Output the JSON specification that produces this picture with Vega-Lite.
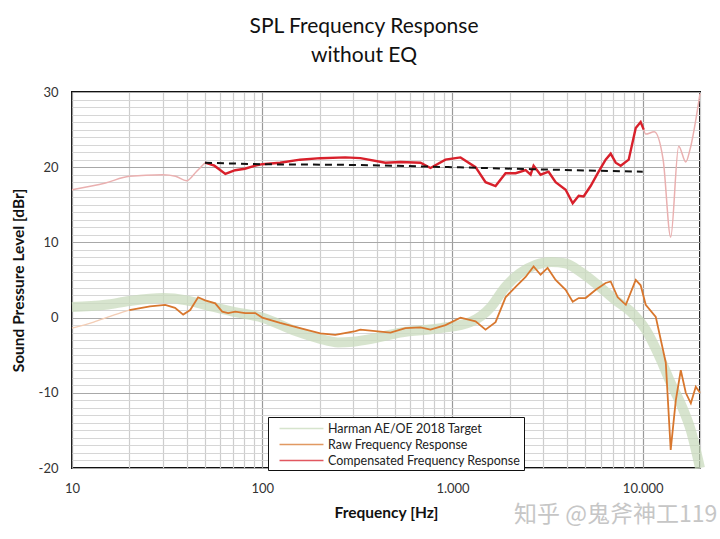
{
  "$schema": "https://vega.github.io/schema/vega-lite/v6.json",
  "width": 628,
  "height": 376,
  "autosize": {"type": "none"},
  "padding": {"left": 72, "top": 92, "right": 20, "bottom": 71},
  "background": "white",
  "title": {
    "text": ["SPL Frequency Response", "without EQ"],
    "font": "Lato",
    "fontSize": 21,
    "fontWeight": "normal",
    "color": "#111",
    "anchor": "middle",
    "dx": -22,
    "offset": 20,
    "lineHeight": 29
  },
  "config": {
    "view": {"stroke": "#111", "strokeWidth": 2},
    "axis": {"domain": false, "ticks": false, "labelFont": "Lato", "titleFont": "Lato", "labelColor": "#333", "titleColor": "#111", "labelFontSize": 13, "titleFontSize": 15.5, "titleFontWeight": "bold"},
    "legend": {"labelFont": "Lato"}
  },
  "datasets": {
    "pts": [
      {"s": "Harman AE/OE 2018 Target", "f": 10, "v": 1.4},
      {"s": "Harman AE/OE 2018 Target", "f": 15, "v": 1.7},
      {"s": "Harman AE/OE 2018 Target", "f": 20, "v": 2.2},
      {"s": "Harman AE/OE 2018 Target", "f": 30, "v": 2.6},
      {"s": "Harman AE/OE 2018 Target", "f": 40, "v": 2.3},
      {"s": "Harman AE/OE 2018 Target", "f": 50, "v": 1.7},
      {"s": "Harman AE/OE 2018 Target", "f": 70, "v": 0.8},
      {"s": "Harman AE/OE 2018 Target", "f": 100, "v": 0.0},
      {"s": "Harman AE/OE 2018 Target", "f": 150, "v": -1.8},
      {"s": "Harman AE/OE 2018 Target", "f": 200, "v": -2.8},
      {"s": "Harman AE/OE 2018 Target", "f": 250, "v": -3.3},
      {"s": "Harman AE/OE 2018 Target", "f": 300, "v": -3.2},
      {"s": "Harman AE/OE 2018 Target", "f": 380, "v": -2.8},
      {"s": "Harman AE/OE 2018 Target", "f": 530, "v": -2.0},
      {"s": "Harman AE/OE 2018 Target", "f": 870, "v": -1.4},
      {"s": "Harman AE/OE 2018 Target", "f": 1240, "v": -0.6},
      {"s": "Harman AE/OE 2018 Target", "f": 1590, "v": 1.4},
      {"s": "Harman AE/OE 2018 Target", "f": 1900, "v": 4.1},
      {"s": "Harman AE/OE 2018 Target", "f": 2260, "v": 5.9},
      {"s": "Harman AE/OE 2018 Target", "f": 2730, "v": 7.0},
      {"s": "Harman AE/OE 2018 Target", "f": 3300, "v": 7.4},
      {"s": "Harman AE/OE 2018 Target", "f": 3930, "v": 7.2},
      {"s": "Harman AE/OE 2018 Target", "f": 4700, "v": 6.1},
      {"s": "Harman AE/OE 2018 Target", "f": 5950, "v": 4.1},
      {"s": "Harman AE/OE 2018 Target", "f": 7210, "v": 2.3},
      {"s": "Harman AE/OE 2018 Target", "f": 8650, "v": 0.8},
      {"s": "Harman AE/OE 2018 Target", "f": 10370, "v": -1.6},
      {"s": "Harman AE/OE 2018 Target", "f": 12450, "v": -5.6},
      {"s": "Harman AE/OE 2018 Target", "f": 14030, "v": -8.7},
      {"s": "Harman AE/OE 2018 Target", "f": 15800, "v": -11.4},
      {"s": "Harman AE/OE 2018 Target", "f": 17900, "v": -15.0},
      {"s": "Harman AE/OE 2018 Target", "f": 20000, "v": -20.0},

      {"s": "RawLow", "f": 10, "v": -1.4},
      {"s": "RawLow", "f": 13, "v": -0.6},
      {"s": "RawLow", "f": 16, "v": 0.2},
      {"s": "RawLow", "f": 20, "v": 1.0},

      {"s": "Raw Frequency Response", "f": 20, "v": 1.0},
      {"s": "Raw Frequency Response", "f": 25.7, "v": 1.5},
      {"s": "Raw Frequency Response", "f": 30.9, "v": 1.7},
      {"s": "Raw Frequency Response", "f": 34.8, "v": 1.3},
      {"s": "Raw Frequency Response", "f": 38.4, "v": 0.4},
      {"s": "Raw Frequency Response", "f": 41.8, "v": 1.0},
      {"s": "Raw Frequency Response", "f": 46.0, "v": 2.7},
      {"s": "Raw Frequency Response", "f": 50.1, "v": 2.3},
      {"s": "Raw Frequency Response", "f": 56.6, "v": 1.9},
      {"s": "Raw Frequency Response", "f": 61.6, "v": 0.8},
      {"s": "Raw Frequency Response", "f": 66.2, "v": 0.6},
      {"s": "Raw Frequency Response", "f": 72.1, "v": 0.8},
      {"s": "Raw Frequency Response", "f": 81.4, "v": 0.6},
      {"s": "Raw Frequency Response", "f": 91.9, "v": 0.6},
      {"s": "Raw Frequency Response", "f": 100, "v": 0.0},
      {"s": "Raw Frequency Response", "f": 124, "v": -0.7},
      {"s": "Raw Frequency Response", "f": 158, "v": -1.4},
      {"s": "Raw Frequency Response", "f": 202, "v": -2.1},
      {"s": "Raw Frequency Response", "f": 242, "v": -2.3},
      {"s": "Raw Frequency Response", "f": 309, "v": -1.8},
      {"s": "Raw Frequency Response", "f": 328, "v": -1.6},
      {"s": "Raw Frequency Response", "f": 472, "v": -2.0},
      {"s": "Raw Frequency Response", "f": 566, "v": -1.4},
      {"s": "Raw Frequency Response", "f": 679, "v": -1.3},
      {"s": "Raw Frequency Response", "f": 766, "v": -1.6},
      {"s": "Raw Frequency Response", "f": 919, "v": -1.0},
      {"s": "Raw Frequency Response", "f": 1102, "v": 0.0},
      {"s": "Raw Frequency Response", "f": 1322, "v": -0.5},
      {"s": "Raw Frequency Response", "f": 1492, "v": -1.6},
      {"s": "Raw Frequency Response", "f": 1684, "v": -0.6},
      {"s": "Raw Frequency Response", "f": 1901, "v": 2.7},
      {"s": "Raw Frequency Response", "f": 2147, "v": 4.1},
      {"s": "Raw Frequency Response", "f": 2423, "v": 5.4},
      {"s": "Raw Frequency Response", "f": 2669, "v": 6.8},
      {"s": "Raw Frequency Response", "f": 2904, "v": 5.7},
      {"s": "Raw Frequency Response", "f": 3162, "v": 6.6},
      {"s": "Raw Frequency Response", "f": 3484, "v": 5.0},
      {"s": "Raw Frequency Response", "f": 3934, "v": 3.7},
      {"s": "Raw Frequency Response", "f": 4285, "v": 2.1},
      {"s": "Raw Frequency Response", "f": 4607, "v": 2.6},
      {"s": "Raw Frequency Response", "f": 5012, "v": 2.6},
      {"s": "Raw Frequency Response", "f": 5663, "v": 3.7},
      {"s": "Raw Frequency Response", "f": 6383, "v": 4.6},
      {"s": "Raw Frequency Response", "f": 6786, "v": 4.8},
      {"s": "Raw Frequency Response", "f": 7387, "v": 2.7},
      {"s": "Raw Frequency Response", "f": 8150, "v": 1.7},
      {"s": "Raw Frequency Response", "f": 9188, "v": 5.0},
      {"s": "Raw Frequency Response", "f": 9752, "v": 4.3},
      {"s": "Raw Frequency Response", "f": 10370, "v": 1.7},
      {"s": "Raw Frequency Response", "f": 11710, "v": 0.1},
      {"s": "Raw Frequency Response", "f": 13220, "v": -6.0},
      {"s": "Raw Frequency Response", "f": 14030, "v": -17.6},
      {"s": "Raw Frequency Response", "f": 14920, "v": -11.0},
      {"s": "Raw Frequency Response", "f": 15850, "v": -7.0},
      {"s": "Raw Frequency Response", "f": 16840, "v": -10.0},
      {"s": "Raw Frequency Response", "f": 17900, "v": -11.4},
      {"s": "Raw Frequency Response", "f": 19000, "v": -9.2},
      {"s": "Raw Frequency Response", "f": 20000, "v": -10.0},

      {"s": "CompLow", "f": 10, "v": 17.0},
      {"s": "CompLow", "f": 15, "v": 17.9},
      {"s": "CompLow", "f": 20, "v": 18.8},
      {"s": "CompLow", "f": 30, "v": 19.0},
      {"s": "CompLow", "f": 35, "v": 18.8},
      {"s": "CompLow", "f": 40, "v": 18.2},
      {"s": "CompLow", "f": 45, "v": 19.4},
      {"s": "CompLow", "f": 50.1, "v": 20.6},

      {"s": "Compensated Frequency Response", "f": 50.1, "v": 20.6},
      {"s": "Compensated Frequency Response", "f": 56, "v": 20.2},
      {"s": "Compensated Frequency Response", "f": 64, "v": 19.1},
      {"s": "Compensated Frequency Response", "f": 72, "v": 19.6},
      {"s": "Compensated Frequency Response", "f": 81, "v": 19.8},
      {"s": "Compensated Frequency Response", "f": 92, "v": 20.2},
      {"s": "Compensated Frequency Response", "f": 100, "v": 20.4},
      {"s": "Compensated Frequency Response", "f": 124, "v": 20.6},
      {"s": "Compensated Frequency Response", "f": 158, "v": 21.0},
      {"s": "Compensated Frequency Response", "f": 202, "v": 21.2},
      {"s": "Compensated Frequency Response", "f": 273, "v": 21.3},
      {"s": "Compensated Frequency Response", "f": 328, "v": 21.2},
      {"s": "Compensated Frequency Response", "f": 444, "v": 20.6},
      {"s": "Compensated Frequency Response", "f": 532, "v": 20.7},
      {"s": "Compensated Frequency Response", "f": 679, "v": 20.6},
      {"s": "Compensated Frequency Response", "f": 766, "v": 19.9},
      {"s": "Compensated Frequency Response", "f": 919, "v": 21.0},
      {"s": "Compensated Frequency Response", "f": 1037, "v": 21.2},
      {"s": "Compensated Frequency Response", "f": 1102, "v": 21.3},
      {"s": "Compensated Frequency Response", "f": 1322, "v": 20.0},
      {"s": "Compensated Frequency Response", "f": 1492, "v": 18.0},
      {"s": "Compensated Frequency Response", "f": 1684, "v": 17.5},
      {"s": "Compensated Frequency Response", "f": 1901, "v": 19.2},
      {"s": "Compensated Frequency Response", "f": 2147, "v": 19.2},
      {"s": "Compensated Frequency Response", "f": 2423, "v": 19.6},
      {"s": "Compensated Frequency Response", "f": 2574, "v": 19.0},
      {"s": "Compensated Frequency Response", "f": 2669, "v": 20.2},
      {"s": "Compensated Frequency Response", "f": 2904, "v": 19.0},
      {"s": "Compensated Frequency Response", "f": 3199, "v": 19.4},
      {"s": "Compensated Frequency Response", "f": 3484, "v": 18.0},
      {"s": "Compensated Frequency Response", "f": 3934, "v": 17.0},
      {"s": "Compensated Frequency Response", "f": 4285, "v": 15.2},
      {"s": "Compensated Frequency Response", "f": 4607, "v": 16.2},
      {"s": "Compensated Frequency Response", "f": 4890, "v": 16.1},
      {"s": "Compensated Frequency Response", "f": 5321, "v": 17.5},
      {"s": "Compensated Frequency Response", "f": 5864, "v": 19.4},
      {"s": "Compensated Frequency Response", "f": 6383, "v": 21.0},
      {"s": "Compensated Frequency Response", "f": 6786, "v": 21.8},
      {"s": "Compensated Frequency Response", "f": 7210, "v": 20.6},
      {"s": "Compensated Frequency Response", "f": 7660, "v": 20.2},
      {"s": "Compensated Frequency Response", "f": 8439, "v": 21.0},
      {"s": "Compensated Frequency Response", "f": 9188, "v": 25.2},
      {"s": "Compensated Frequency Response", "f": 9752, "v": 26.0},
      {"s": "Compensated Frequency Response", "f": 10120, "v": 25.0},

      {"s": "CompHigh", "f": 10120, "v": 25.0},
      {"s": "CompHigh", "f": 10370, "v": 24.4},
      {"s": "CompHigh", "f": 11500, "v": 24.7},
      {"s": "CompHigh", "f": 12800, "v": 21.0},
      {"s": "CompHigh", "f": 14030, "v": 10.7},
      {"s": "CompHigh", "f": 15450, "v": 22.8},
      {"s": "CompHigh", "f": 16840, "v": 20.7},
      {"s": "CompHigh", "f": 17700, "v": 22.3},
      {"s": "CompHigh", "f": 20000, "v": 29.8},

      {"s": "Dashed", "f": 50, "v": 20.6},
      {"s": "Dashed", "f": 100, "v": 20.4},
      {"s": "Dashed", "f": 300, "v": 20.3},
      {"s": "Dashed", "f": 1000, "v": 20.0},
      {"s": "Dashed", "f": 3000, "v": 19.7},
      {"s": "Dashed", "f": 10000, "v": 19.4}
    ],
    "mark": [
      {"f": 7200, "v": -26.3, "t": "知乎 @鬼斧神工119"}
    ]
  },
  "encoding": {
    "x": {
      "field": "f", "type": "quantitative",
      "scale": {"type": "log", "domain": [10, 20000], "nice": false},
      "axis": {
        "title": "Frequency [Hz]",
        "values": [10,20,30,40,50,60,70,80,90,100,200,300,400,500,600,700,800,900,1000,2000,3000,4000,5000,6000,7000,8000,9000,10000,20000],
        "labelExpr": "datum.value == 10 ? '10' : datum.value == 100 ? '100' : datum.value == 1000 ? '1.000' : datum.value == 10000 ? '10.000' : ''",
        "labelPadding": 14,
        "labelFlush": false,
        "labelOverlap": false,
        "titlePadding": 10,
        "gridColor": {"condition": {"test": "datum.value == 10 || datum.value == 100 || datum.value == 1000 || datum.value == 10000", "value": "#9a9a9a"}, "value": "#cdcdcd"},
        "gridWidth": 1.2
      }
    },
    "y": {
      "field": "v", "type": "quantitative",
      "scale": {"domain": [-20, 30], "nice": false, "zero": false},
      "axis": {
        "title": "Sound Pressure Level [dBr]",
        "values": [-20,-19,-18,-17,-16,-15,-14,-13,-12,-11,-10,-9,-8,-7,-6,-5,-4,-3,-2,-1,0,1,2,3,4,5,6,7,8,9,10,11,12,13,14,15,16,17,18,19,20,21,22,23,24,25,26,27,28,29,30],
        "labelExpr": "datum.value % 10 == 0 ? toString(datum.value) : ''",
        "labelPadding": 14,
        "labelOverlap": false,
        "labelFlush": false,
        "titlePadding": 12,
        "gridColor": {"condition": {"test": "datum.value % 10 == 0", "value": "#a8a8a8"}, "value": "#d6d6d6"},
        "gridWidth": 1.2
      }
    }
  },
  "layer": [
    {
      "data": {"name": "pts"},
      "transform": [{"filter": "datum.s == 'Harman AE/OE 2018 Target'"}],
      "mark": {"type": "line", "strokeWidth": 10, "opacity": 0.75, "strokeCap": "butt", "interpolate": "monotone"},
      "encoding": {
        "color": {
          "field": "s", "type": "nominal",
          "scale": {"domain": ["Harman AE/OE 2018 Target", "Raw Frequency Response", "Compensated Frequency Response"], "range": ["#c9dbbd", "#d8772e", "#d8202b"]},
          "legend": {
            "title": null,
            "orient": "none",
            "legendX": 196,
            "legendY": 325,
            "padding": 3,
            "strokeColor": "#111",
            "fillColor": "white",
            "symbolType": "M-2.93,0H2.93",
            "symbolSize": 225,
            "symbolOffset": 22,
            "labelFontSize": 12.5,
            "labelColor": "#222",
            "labelOffset": 18,
            "labelLimit": 400,
            "rowPadding": 1,
            "encode": {"symbols": {"strokeWidth": {"condition": {"test": "datum.value == 'Harman AE/OE 2018 Target'", "value": 7}, "value": 1.8}, "opacity": {"value": 1}}}
          }
        }
      }
    },
    {
      "data": {"name": "pts"},
      "transform": [{"filter": "datum.s == 'RawLow'"}],
      "mark": {"type": "line", "color": "#f3cdb5", "strokeWidth": 1.5, "interpolate": "monotone"},
      "encoding": {}
    },
    {
      "data": {"name": "pts"},
      "transform": [{"filter": "datum.s == 'CompLow' || datum.s == 'CompHigh'"}],
      "mark": {"type": "line", "color": "#eab0b0", "strokeWidth": 1.5, "interpolate": "monotone"},
      "encoding": {"detail": {"field": "s"}}
    },
    {
      "data": {"name": "pts"},
      "transform": [{"filter": "datum.s == 'Raw Frequency Response'"}],
      "mark": {"type": "line", "strokeWidth": 1.8},
      "encoding": {"color": {"field": "s", "type": "nominal"}}
    },
    {
      "data": {"name": "pts"},
      "transform": [{"filter": "datum.s == 'Compensated Frequency Response'"}],
      "mark": {"type": "line", "strokeWidth": 2.4},
      "encoding": {"color": {"field": "s", "type": "nominal"}}
    },
    {
      "data": {"name": "pts"},
      "transform": [{"filter": "datum.s == 'Dashed'"}],
      "mark": {"type": "line", "color": "#111", "strokeWidth": 2, "strokeDash": [7, 5], "interpolate": "monotone"},
      "encoding": {}
    },
    {
      "data": {"name": "mark"},
      "mark": {"type": "text", "font": "Noto Sans CJK SC", "fontSize": 23, "color": "#c6c6c6", "align": "center", "baseline": "middle"},
      "encoding": {"text": {"field": "t"}}
    }
  ]
}
